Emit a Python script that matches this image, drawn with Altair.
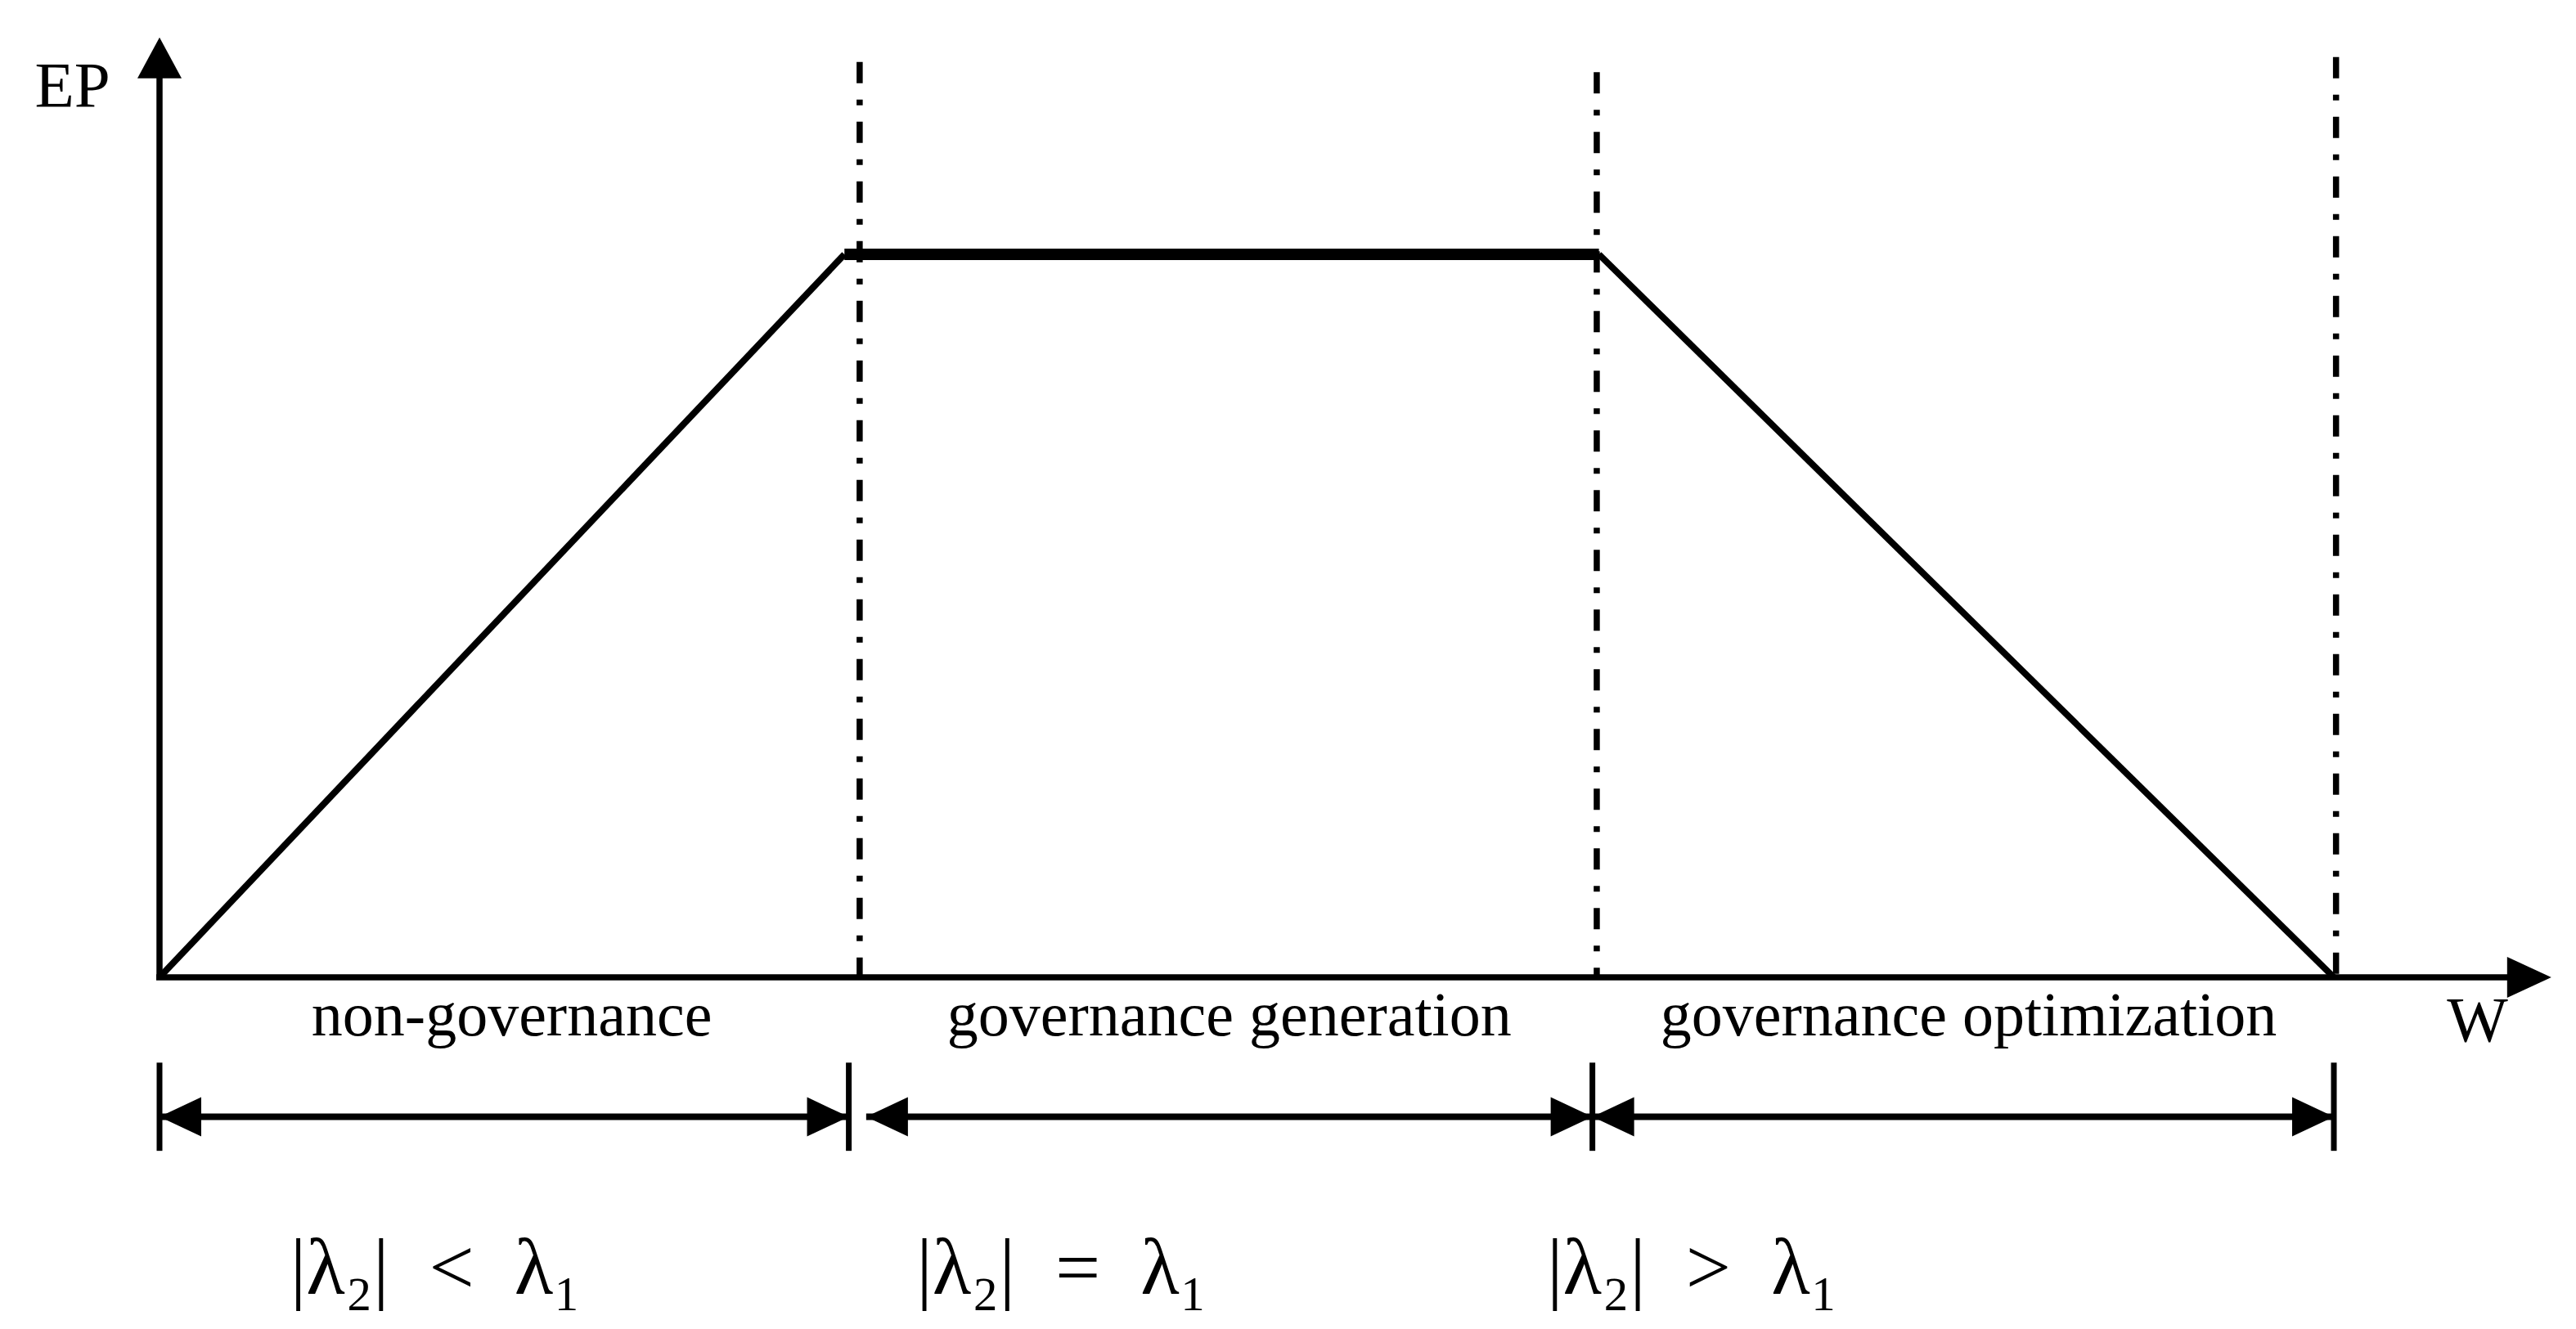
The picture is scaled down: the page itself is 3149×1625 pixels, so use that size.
import altair as alt
import pandas as pd

# ---- values (W units horizontally, EP units vertically) ----
trap_w = [0.0, 3.15, 6.62, 10.0]
trap_ep = [0.0, 10.0, 10.0, 0.0]
dash_w = [3.22, 6.61, 10.01]
dash_top = [12.66, 12.52, 12.73]
bar_w = [0.0, 3.17, 6.59, 10.0]
bar_top = -1.18
bar_bottom = -2.40
seg_y = -1.93
seg_start = [0.0, 3.25, 6.59]
seg_end = [3.17, 6.59, 10.0]
phase_labels = ["non-governance", "governance generation", "governance optimization"]
phase_label_w = [1.62, 4.92, 8.32]
phase_label_ep = -0.80
SP = "\u2002"
cond_labels = [f"|λ₂|{SP}<{SP}λ₁", f"|λ₂|{SP}={SP}λ₁", f"|λ₂|{SP}>{SP}λ₁"]
cond_label_w = [1.27, 4.15, 7.05]
cond_label_ep = -4.38
x_axis_end = 11.0
y_axis_end = 13.0
axis_titles = ["EP", "W"]
axis_title_w = [-0.40, 10.66]
axis_title_ep = [12.05, -0.88]

# ---- layout ----
W, H = 3130, 1600
px_per_w = 265.8
px_per_ep = 88.4
xmin = -187 / px_per_w
xmax = xmin + W / px_per_w
ymax = 1187 / px_per_ep
ymin = ymax - H / px_per_ep

xs = alt.Scale(domain=[xmin, xmax], nice=False, zero=False)
ys = alt.Scale(domain=[ymin, ymax], nice=False, zero=False)

def X(f="x"):
    return alt.X(f"{f}:Q", scale=xs, axis=None)

def Y(f="y"):
    return alt.Y(f"{f}:Q", scale=ys, axis=None)

BLACK = "black"

# axes lines
yaxis = alt.Chart(pd.DataFrame({"x": [0.0], "y": [0.0], "y2": [y_axis_end - 0.4]})).mark_rule(
    color=BLACK, strokeWidth=7.5).encode(x=X(), y=Y(), y2="y2:Q")
xaxis = alt.Chart(pd.DataFrame({"x": [-0.015], "x2": [x_axis_end - 0.15], "y": [0.0]})).mark_rule(
    color=BLACK, strokeWidth=7.5).encode(x=X(), x2="x2:Q", y=Y())

yhead = alt.Chart(pd.DataFrame({"x": [0.0], "y": [y_axis_end]})).mark_point(
    filled=True, opacity=1, color=BLACK, shape="M0,0L1,1.85L-1,1.85Z", size=2916).encode(x=X(), y=Y())
xhead = alt.Chart(pd.DataFrame({"x": [x_axis_end], "y": [0.0]})).mark_point(
    filled=True, opacity=1, color=BLACK, shape="M0,0L-2.16,-1L-2.16,1Z", size=2500).encode(x=X(), y=Y())

# trapezoid
diag = pd.DataFrame({
    "x": [trap_w[0], trap_w[2]], "y": [trap_ep[0], trap_ep[2]],
    "x2": [trap_w[1], trap_w[3]], "y2": [trap_ep[1], trap_ep[3]],
})
diagonals = alt.Chart(diag).mark_rule(color=BLACK, strokeWidth=8).encode(
    x=X(), y=Y(), x2="x2:Q", y2="y2:Q")
plateau = alt.Chart(pd.DataFrame({"x": [trap_w[1]], "x2": [trap_w[2]], "y": [trap_ep[1]]})).mark_rule(
    color=BLACK, strokeWidth=14).encode(x=X(), x2="x2:Q", y=Y())

# dash-dot verticals
dashes = alt.Chart(pd.DataFrame({"x": dash_w, "y": dash_top, "y2": [0.0] * 3})).mark_rule(
    color=BLACK, strokeWidth=7.5, strokeDash=[26, 20, 7, 20]).encode(x=X(), y=Y(), y2="y2:Q")

# dimension bars and arrows
bars = alt.Chart(pd.DataFrame({"x": bar_w, "y": [bar_top] * 4, "y2": [bar_bottom] * 4})).mark_rule(
    color=BLACK, strokeWidth=7).encode(x=X(), y=Y(), y2="y2:Q")
segs = alt.Chart(pd.DataFrame({"x": seg_start, "x2": seg_end, "y": [seg_y] * 3})).mark_rule(
    color=BLACK, strokeWidth=8).encode(x=X(), x2="x2:Q", y=Y())
lheads = alt.Chart(pd.DataFrame({"x": seg_start, "y": [seg_y] * 3})).mark_point(
    filled=True, opacity=1, color=BLACK, shape="M0,0L2.125,-1L2.125,1Z", size=2304).encode(x=X(), y=Y())
rheads = alt.Chart(pd.DataFrame({"x": seg_end, "y": [seg_y] * 3})).mark_point(
    filled=True, opacity=1, color=BLACK, shape="M0,0L-2.125,-1L-2.125,1Z", size=2304).encode(x=X(), y=Y())

# texts
phase_txt = alt.Chart(pd.DataFrame({"x": phase_label_w, "y": [phase_label_ep] * 3, "t": phase_labels})).mark_text(
    font="Liberation Serif", fontSize=76, align="center", baseline="alphabetic", color=BLACK).encode(
    x=X(), y=Y(), text="t:N")
cond_txt = alt.Chart(pd.DataFrame({"x": cond_label_w, "y": [cond_label_ep] * 3, "t": cond_labels})).mark_text(
    font="Liberation Serif", fontSize=98, align="center", baseline="alphabetic", color=BLACK).encode(
    x=X(), y=Y(), text="t:N")
axis_txt = alt.Chart(pd.DataFrame({"x": axis_title_w, "y": axis_title_ep, "t": axis_titles})).mark_text(
    font="Liberation Serif", fontSize=79, align="center", baseline="alphabetic", color=BLACK).encode(
    x=X(), y=Y(), text="t:N")

chart = alt.layer(
    yaxis, xaxis, diagonals, plateau, dashes, bars, segs,
    yhead, xhead, lheads, rheads, phase_txt, cond_txt, axis_txt,
).properties(
    width=W, height=H, autosize=alt.AutoSizeParams(type="none"), padding=0, background="white"
).configure_view(stroke=None)

chart.save("out.html", embed_options={"renderer": "svg", "actions": False})
